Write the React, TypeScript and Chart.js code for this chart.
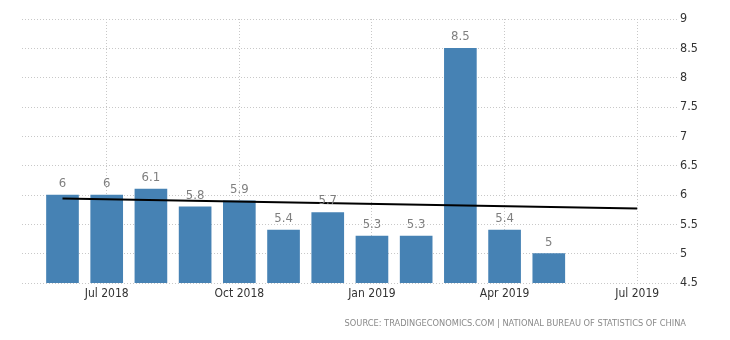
import React, { useEffect, useRef } from "react";
import { Chart, registerables } from "chart.js";

Chart.register(...registerables);

// All months on the time axis (Jun 2018 .. Jul 2019)
const allMonths = [
  "Jun 2018", "Jul 2018", "Aug 2018", "Sep 2018", "Oct 2018", "Nov 2018",
  "Dec 2018", "Jan 2019", "Feb 2019", "Mar 2019", "Apr 2019", "May 2019",
  "Jun 2019", "Jul 2019",
];
// Bar categories and values
const barMonths = [
  "Jun 2018", "Jul 2018", "Aug 2018", "Sep 2018", "Oct 2018", "Nov 2018",
  "Dec 2018", "Jan 2019", "Feb 2019", "Mar 2019", "Apr 2019", "May 2019",
];
const barValues = [6, 6, 6.1, 5.8, 5.9, 5.4, 5.7, 5.3, 5.3, 8.5, 5.4, 5];
// Trend line end points
const trendMonths = ["Jun 2018", "Jul 2019"];
const trendValues = [5.94, 5.77];
// Tick labels
const xTickLabels = ["Jul 2018", "Oct 2018", "Jan 2019", "Apr 2019", "Jul 2019"];
const yMin = 4.5;
const yMax = 9;
const yStep = 0.5;
const sourceText = "SOURCE: TRADINGECONOMICS.COM | NATIONAL BUREAU OF STATISTICS OF CHINA";

const FONT = "'DejaVu Sans Condensed', 'Liberation Sans', sans-serif";

export default function App() {
  const ref = useRef<HTMLCanvasElement>(null);

  useEffect(() => {
    document.body.style.margin = "0";
    const canvas = ref.current!;
    const valueLabels = {
      id: "valueLabels",
      afterDatasetsDraw(chart: any) {
        const ctx = chart.ctx;
        const meta = chart.getDatasetMeta(0);
        ctx.save();
        ctx.font = "13px " + FONT;
        ctx.fillStyle = "#7f7f7f";
        ctx.textAlign = "center";
        ctx.textBaseline = "bottom";
        meta.data.forEach((el: any, i: number) => {
          ctx.fillText(String(barValues[i]), el.x, el.y - 5);
        });
        ctx.restore();
      },
      afterDraw(chart: any) {
        const ctx = chart.ctx;
        ctx.save();
        ctx.font = "9.2px " + FONT;
        ctx.fillStyle = "#8a8a8a";
        ctx.textAlign = "right";
        ctx.textBaseline = "middle";
        ctx.fillText(sourceText, 686, 324);
        ctx.restore();
      },
    };

    const chart = new Chart(canvas, {
      type: "bar",
      data: {
        datasets: [
          {
            type: "bar",
            data: barMonths.map((m, i) => ({ x: allMonths.indexOf(m), y: barValues[i] })),
            backgroundColor: "#4682b4",
            barThickness: 32,
            order: 2,
          },
          {
            type: "line",
            data: trendMonths.map((m, i) => ({ x: allMonths.indexOf(m), y: trendValues[i] })),
            borderColor: "#000000",
            borderWidth: 2,
            pointRadius: 0,
            fill: false,
            order: 1,
          },
        ] as any,
      },
      options: {
        responsive: false,
        animation: false,
        layout: { padding: { left: 22, top: 19, right: 0, bottom: 0 } },
        plugins: { legend: { display: false }, tooltip: { enabled: false } },
        scales: {
          x: {
            type: "linear",
            offset: false,
            min: -0.916,
            max: 13.9,
            afterBuildTicks: (scale: any) => {
              scale.ticks = xTickLabels.map((l) => ({ value: allMonths.indexOf(l) }));
            },
            afterFit: (scale: any) => {
              scale.height = 57;
            },
            ticks: {
              callback: (v: any) => allMonths[v],
              font: { family: FONT, size: 12 },
              color: "#333333",
              maxRotation: 0,
              autoSkip: false,
              padding: 4,
            },
            grid: { color: "#c8c8c8", drawTicks: false, offset: false },
            border: { display: false, dash: [1, 2] },
          },
          y: {
            position: "right",
            min: yMin,
            max: yMax,
            afterFit: (scale: any) => {
              scale.width = 53;
            },
            ticks: {
              stepSize: yStep,
              callback: (v: any) => String(Math.round(v * 10) / 10),
              font: { family: FONT, size: 12.5 },
              color: "#333333",
              padding: 3,
              crossAlign: "near",
            },
            grid: { color: "#c8c8c8", drawTicks: false },
            border: { display: false, dash: [1, 2] },
          },
        },
      } as any,
      plugins: [valueLabels],
    });
    return () => chart.destroy();
  }, []);

  return (
    <div style={{ position: "fixed", left: 0, top: 0, width: 730, height: 340, background: "#fff" }}>
      <canvas ref={ref} width={730} height={340} />
    </div>
  );
}
